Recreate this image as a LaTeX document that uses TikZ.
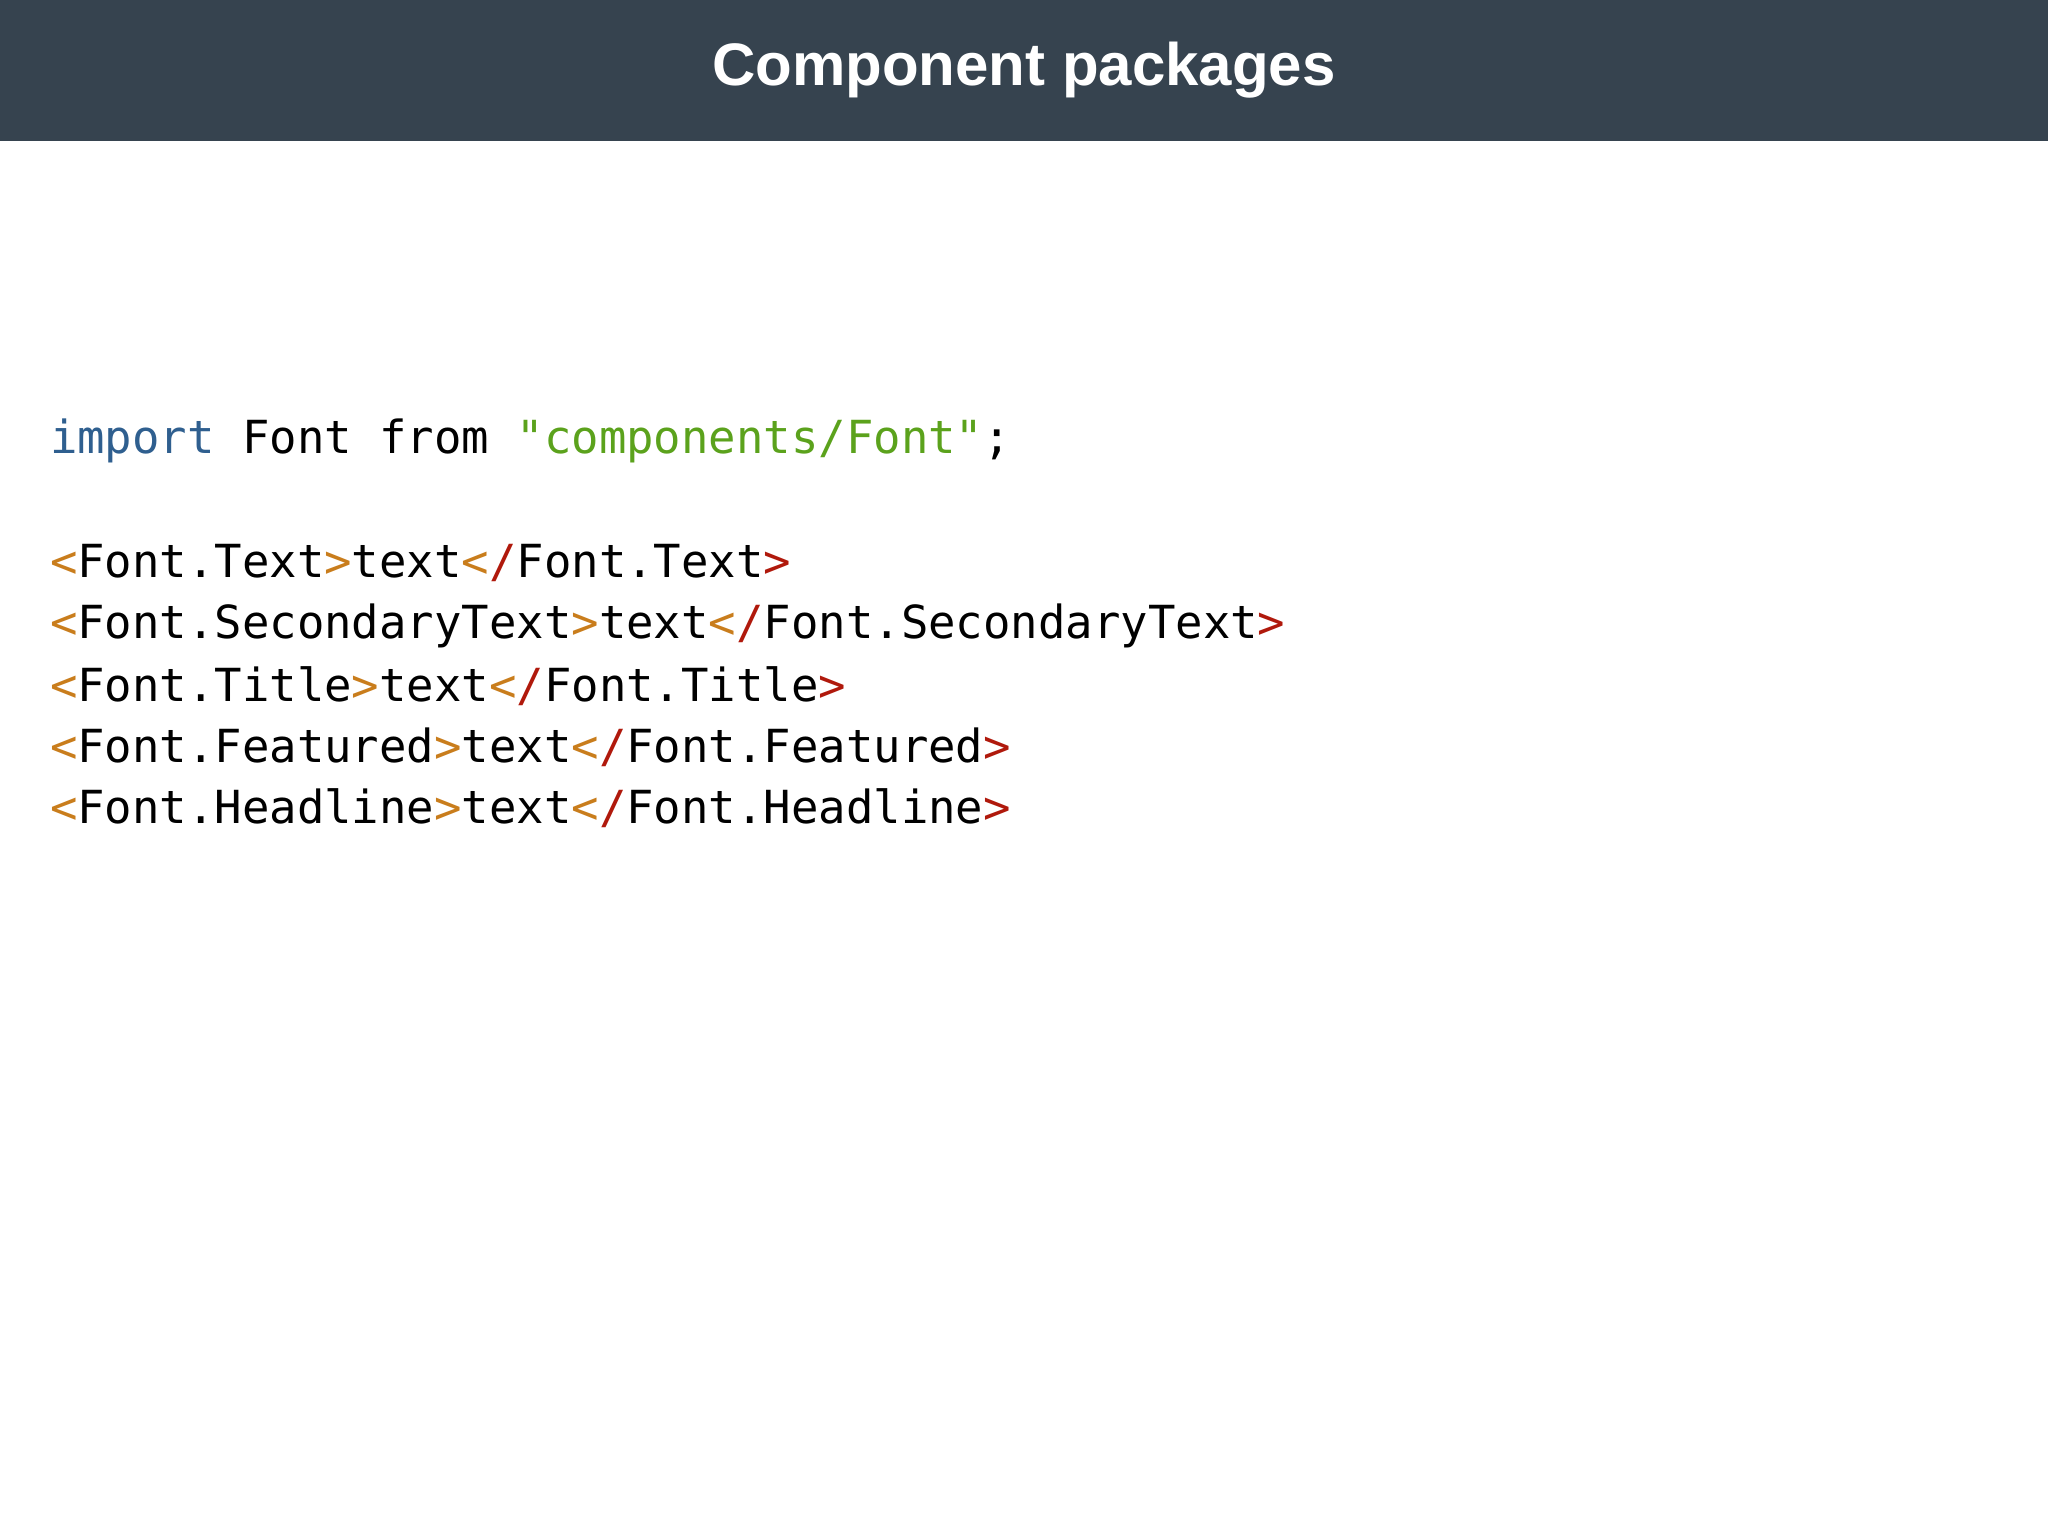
\documentclass[tikz,border=0pt]{standalone}
\usepackage{fontspec}
\setmainfont{Liberation Sans}
\setmonofont{DejaVu Sans Mono}
\definecolor{hdr}{HTML}{36434F}
\definecolor{kw}{HTML}{2F5F8F}
\definecolor{str}{HTML}{5BA21C}
\definecolor{tg}{HTML}{C97D1C}
\definecolor{tc}{HTML}{B0190C}
\newcommand{\Lt}{\textcolor{tg}{<}}
\newcommand{\Gt}{\textcolor{tg}{>}}
\newcommand{\Cl}{\textcolor{tg}{<}\textcolor{tc}{/}}
\newcommand{\Ge}{\textcolor{tc}{>}}
\tikzset{code/.style={anchor=base west,inner sep=0pt,font=\fontsize{22.8pt}{26pt}\ttfamily}}
\begin{document}
\begin{tikzpicture}[x=1pt,y=1pt]
\useasboundingbox (0,0) rectangle (1024,768);
\fill[white] (0,0) rectangle (1024,768);
\fill[hdr] (0,697.5) rectangle (1024,768);
\node[text=white,font=\fontsize{30pt}{34pt}\bfseries\sffamily\setmainfont{Liberation Sans}] (title) at (512,733) {\textbf{\rmfamily Component packages}};
\node[code] (l0) at (24.8,541.4) {\textcolor{kw}{import} Font from \textcolor{str}{"components/Font"};};
\node[code] (l1) at (24.8,479.4) {\Lt Font.Text\Gt text\Cl Font.Text\Ge};
\node[code] (l2) at (24.8,448.7) {\Lt Font.SecondaryText\Gt text\Cl Font.SecondaryText\Ge};
\node[code] (l3) at (24.8,417.3) {\Lt Font.Title\Gt text\Cl Font.Title\Ge};
\node[code] (l4) at (24.8,386.6) {\Lt Font.Featured\Gt text\Cl Font.Featured\Ge};
\node[code] (l5) at (24.8,356.0) {\Lt Font.Headline\Gt text\Cl Font.Headline\Ge};
\end{tikzpicture}
\end{document}
